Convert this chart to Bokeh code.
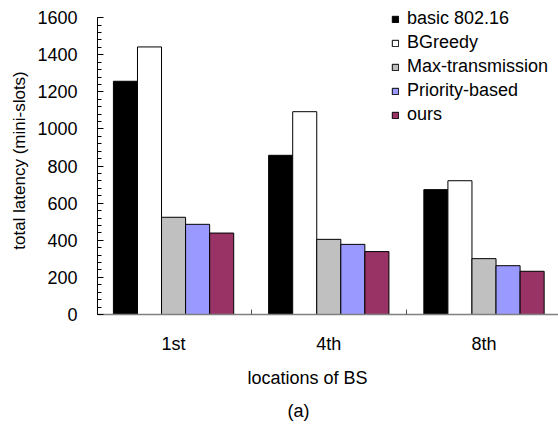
from bokeh.plotting import figure
from bokeh.models import (ColumnDataSource, FixedTicker, Legend, LegendItem,
                          Title, Range1d)
from bokeh.embed import file_html
from bokeh.resources import INLINE

# Locations of the base station and the latency of each scheme (mini-slots)
locations = ["1st", "4th", "8th"]
schemes = ["basic 802.16", "BGreedy", "Max-transmission", "Priority-based", "ours"]
basic_80216 = [1257, 858, 673]
bgreedy = [1442, 1093, 721]
max_transmission = [524, 405, 301]
priority_based = [486, 378, 263]
ours = [439, 339, 233]
series = [basic_80216, bgreedy, max_transmission, priority_based, ours]
colors = ["#000000", "#FFFFFF", "#C0C0C0", "#9999FF", "#993366"]
y_ticks = [0, 200, 400, 600, 800, 1000, 1200, 1400, 1600]

FONT = "Liberation Sans"
bar_w = 0.155

p = figure(width=558, height=425, output_backend="svg", toolbar_location=None,
           x_range=Range1d(-0.49, 2.48), y_range=Range1d(0, 1660),
           min_border_left=97, min_border_right=0, min_border_top=6,
           min_border_bottom=111)
p.outline_line_color = None
p.xgrid.grid_line_color = None
p.ygrid.grid_line_color = None

items = []
for j, (name, vals, col) in enumerate(zip(schemes, series, colors)):
    xs = [i + (j - 2) * bar_w for i in range(len(locations))]
    src = ColumnDataSource(dict(x=xs, top=vals))
    r = p.vbar(x="x", top="top", width=bar_w, bottom=0, source=src,
               fill_color=col, line_color="#000000", line_width=1)
    items.append(LegendItem(label=name, renderers=[r]))

legend = Legend(items=items, location=(294, 189), padding=0, margin=0,
                border_line_color=None, background_fill_alpha=0,
                glyph_width=8, glyph_height=8, label_height=20, spacing=3,
                label_standoff=8, label_text_font=FONT,
                label_text_font_size="18px", label_text_color="#000000")
p.add_layout(legend)

# x axis: category names under each group, small separator ticks between groups
xa = p.xaxis[0]
xa.ticker = FixedTicker(ticks=[0, 1, 2], minor_ticks=[0.5, 1.5])
xa.major_label_overrides = {0: locations[0], 1: locations[1], 2: locations[2]}
xa.major_tick_in = 0
xa.major_tick_out = 0
xa.minor_tick_in = 5
xa.minor_tick_out = 0
xa.minor_tick_line_color = "#555555"
xa.axis_line_color = "#808080"
xa.axis_line_width = 1.5
xa.major_label_standoff = 19
xa.major_label_text_font = FONT
xa.major_label_text_font_size = "18px"
xa.major_label_text_color = "#000000"

ya = p.yaxis[0]
ya.bounds = (0, 1600)
ya.ticker = FixedTicker(ticks=y_ticks, minor_ticks=list(range(0, 1601, 40)))
ya.major_tick_in = 6
ya.major_tick_out = 0
ya.minor_tick_in = 4
ya.minor_tick_out = 0
ya.axis_line_color = "#000000"
ya.major_tick_line_color = "#000000"
ya.minor_tick_line_color = "#000000"
ya.major_label_standoff = 20
ya.major_label_text_font = FONT
ya.major_label_text_font_size = "18px"
ya.major_label_text_color = "#000000"
ya.axis_label = "total latency (mini-slots)"
ya.axis_label_text_font = FONT
ya.axis_label_text_font_size = "17px"
ya.axis_label_text_font_style = "normal"
ya.axis_label_text_color = "#000000"
ya.axis_label_standoff = 5

# caption lines under the axis
p.add_layout(Title(text="locations of BS", align="left", offset=150,
                   text_font=FONT, text_font_size="18px",
                   text_font_style="normal", text_color="#000000",
                   standoff=18), "below")
p.add_layout(Title(text="(a)", align="left", offset=190, text_font=FONT,
                   text_font_size="18px", text_font_style="normal",
                   text_color="#000000", standoff=5), "below")

open("out.html", "w").write(file_html(p, INLINE))
